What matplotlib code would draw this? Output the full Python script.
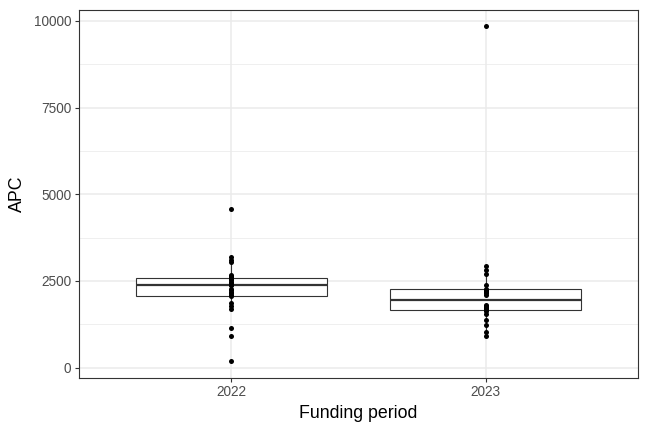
import matplotlib
matplotlib.use("Agg")
import matplotlib.pyplot as plt
import numpy as np

plt.rcParams['font.family'] = ['Liberation Sans', 'DejaVu Sans']

periods = ["2022", "2023"]
apc_2022 = [191, 917, 1137, 1700, 1777, 1853, 2063, 2090, 2140, 2190, 2235, 2280,
            2370, 2386, 2400, 2426, 2470, 2521, 2560, 2600, 2630, 2665,
            3037, 3100, 3180, 4576]
apc_2023 = [897, 1040, 1232, 1375, 1560, 1640, 1690, 1720, 1760, 1790, 1805,
            2092, 2140, 2187, 2220, 2240, 2258, 2378, 2713, 2827, 2923, 9840]
y_ticks = [0, 2500, 5000, 7500, 10000]

data = [apc_2022, apc_2023]

fig = plt.figure(figsize=(6.48, 4.32), dpi=100)
ax = fig.add_axes([0.1219, 0.1257, 0.8627, 0.8518])

grid_col = "#ebebeb"
ax.set_axisbelow(True)

# box, whiskers (no caps), all raw points on top
ax.boxplot(data, positions=[1, 2], widths=0.75, showfliers=False,
           whis=1.5, patch_artist=True,
           boxprops=dict(facecolor="white", edgecolor="#333333", linewidth=0.8),
           medianprops=dict(color="#333333", linewidth=1.6),
           whiskerprops=dict(color="#333333", linewidth=0.8),
           capprops=dict(linewidth=0), zorder=2)

for i, vals in enumerate(data):
    ax.scatter(np.full(len(vals), i + 1), vals, s=13, color="black",
               linewidths=0, zorder=3)

allv = apc_2022 + apc_2023
lo, hi = min(allv), max(allv)
pad = (hi - lo) * 0.05
ax.set_ylim(lo - pad, hi + pad)
ax.set_xlim(0.4, 2.6)

ax.set_yticks(y_ticks)
ax.set_yticks([1250, 3750, 6250, 8750], minor=True)
ax.set_xticks([1, 2])
ax.set_xticklabels(periods)
ax.grid(True, which="major", color=grid_col, linewidth=1.1)
ax.grid(True, which="minor", axis="y", color=grid_col, linewidth=0.55)
ax.tick_params(which="minor", length=0)
ax.tick_params(which="major", length=3, width=0.8, color="#333333",
               labelsize=9.8, labelcolor="#4d4d4d", pad=2.5)

for s in ax.spines.values():
    s.set_color("#333333")
    s.set_linewidth(0.8)

ax.set_xlabel("Funding period", fontsize=12.8, labelpad=4)
ax.set_ylabel("APC", fontsize=12.8, labelpad=6)

fig.savefig("out.png", dpi=100)
